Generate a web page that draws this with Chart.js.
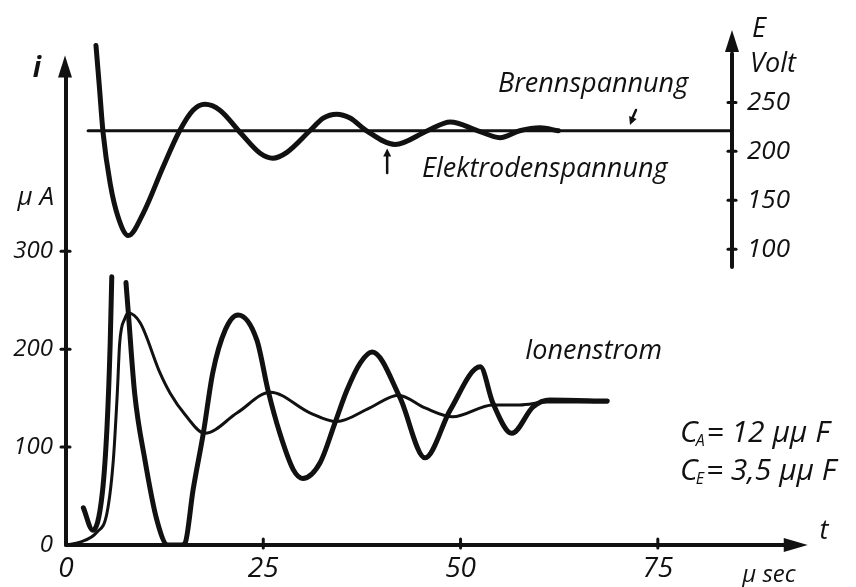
<!DOCTYPE html>
<html>
<head>
<meta charset="utf-8">
<script src="https://cdn.jsdelivr.net/npm/chart.js@4/dist/chart.umd.min.js"></script>
<style>
  html, body { margin: 0; padding: 0; background: #fff; }
  #wrap { width: 856px; height: 587px; position: relative; }
</style>
</head>
<body>
<div id="wrap"><canvas id="plot"></canvas></div>
<script>
// time axis in µs, current in µA (left), voltage in V (right)
const tTicks = [0, 25, 50, 75];
const iTicks = [0, 100, 200, 300];
const eTicks = [100, 150, 200, 250];

// Brennspannung (burning voltage), flat line
const brennT = [2.8, 84.4];
const brennE = [221, 221];

// Elektrodenspannung (electrode voltage)
const elekT = [3.8, 4.2, 4.7, 5.6, 6.6, 7.9, 9.8, 12.3, 14.4, 16.1, 17.6, 19.5, 22.1, 24.6, 26.2, 28.0,
  30.9, 32.6, 34.3, 36.0, 38.1, 41.7, 45.8, 48.7, 52.2, 55.0, 57.5, 60.1, 62.4];
const elekE = [308, 269, 219, 167, 133, 114, 137, 184, 221, 242, 248, 242, 219, 198, 193, 199,
  221, 234, 238, 234, 221, 207, 221, 230, 221, 214, 221, 224, 221];

// thin current trace
const thinT = [0, 1.8, 3.9, 5.2, 6.0, 6.5, 6.8, 7.5, 7.9, 9.4, 11.9, 13.2, 15.1, 17.6, 21.7, 25.9,
  30.9, 34.3, 38.5, 42.1, 45.5, 49.0, 54.1, 57.5, 61.0, 68.6];
const thinI = [0, 3, 13, 33, 87, 155, 206, 232, 237, 227, 176, 155, 133, 114, 135, 156,
  135, 126, 140, 153, 140, 131, 143, 143, 146, 146];

// thick current trace (Ionenstrom), broken after the first spike (null = gap)
const ionT = [2.2, 3.4, 4.6, 5.2, 5.6, 5.8, 6.7, 7.6, 7.9, 8.7, 10.0, 11.5, 12.9, 14.7, 15.1, 16.1,
  17.4, 18.6, 20.2, 21.8, 24.2, 25.6, 27.1, 28.8, 30.0, 32.2, 34.1, 35.6, 37.3, 38.8, 42.3, 45.5,
  48.7, 52.5, 54.1, 56.5, 59.2, 61.3, 68.6];
const ionI = [38, 15, 53, 121, 206, 274, null, 268, 237, 155, 87, 26, 0, 0, 2, 56,
  114, 176, 220, 235, 209, 158, 114, 77, 68, 84, 125, 158, 186, 197, 151, 89,
  138, 182, 145, 114, 141, 148, 147];

const ink = '#111';
const face = '"Open Sans"';
const pts = (xs, ys) => xs.map((t, k) => ({ x: t, y: ys[k] }));

function arrowHead(ctx, tipX, tipY, ang, len, half) {
  ctx.beginPath();
  ctx.moveTo(tipX, tipY);
  ctx.lineTo(tipX - len * Math.cos(ang) + half * Math.sin(ang), tipY - len * Math.sin(ang) - half * Math.cos(ang));
  ctx.lineTo(tipX - len * Math.cos(ang) - half * Math.sin(ang), tipY - len * Math.sin(ang) + half * Math.cos(ang));
  ctx.closePath();
  ctx.fill();
}

function seg(ctx, x1, y1, x2, y2) {
  ctx.beginPath();
  ctx.moveTo(x1, y1);
  ctx.lineTo(x2, y2);
  ctx.stroke();
}

// axes with arrows, annotations and captions
const decor = {
  id: 'decor',
  afterDraw(chart) {
    const { ctx, chartArea: a, scales: { x, y, yE } } = chart;
    ctx.save();
    ctx.strokeStyle = ink;
    ctx.fillStyle = ink;
    ctx.lineCap = 'round';

    // left i axis
    ctx.lineWidth = 4;
    seg(ctx, a.left, y.getPixelForValue(0), a.left, y.getPixelForValue(480));
    arrowHead(ctx, a.left - 1, y.getPixelForValue(500), -Math.PI / 2, 22, 7);

    // right E axis, only the upper part
    seg(ctx, a.right, yE.getPixelForValue(82), a.right, yE.getPixelForValue(300));
    arrowHead(ctx, a.right, yE.getPixelForValue(324), -Math.PI / 2, 22, 7);
    ctx.lineWidth = 3;
    eTicks.forEach(v => {
      const py = yE.getPixelForValue(v);
      seg(ctx, a.right - 4, py, a.right + 4, py);
    });
    iTicks.slice(1).forEach(v => {
      const py = y.getPixelForValue(v);
      seg(ctx, a.left - 5, py, a.left + 4, py);
    });

    // t axis
    ctx.lineWidth = 4;
    const tEnd = x.getPixelForValue(94);
    seg(ctx, a.left, y.getPixelForValue(0), tEnd - 16, y.getPixelForValue(0));
    arrowHead(ctx, tEnd, y.getPixelForValue(0), 0, 24, 7);
    ctx.lineWidth = 3;
    tTicks.slice(1).forEach(v => {
      const px = x.getPixelForValue(v);
      seg(ctx, px, a.bottom - 6, px, a.bottom + 3);
    });

    // small arrows pointing at the two voltage curves
    ctx.lineWidth = 2.5;
    const bx = x.getPixelForValue(71.6), by = yE.getPixelForValue(229);
    seg(ctx, bx + 5, by - 13, bx + 1, by - 4);
    arrowHead(ctx, bx - 1, by + 2, Math.atan2(13, -5), 8, 4);
    const ex = x.getPixelForValue(40.7);
    seg(ctx, ex, yE.getPixelForValue(178), ex, yE.getPixelForValue(198));
    arrowHead(ctx, ex, yE.getPixelForValue(203), -Math.PI / 2, 8, 4);

    // captions
    ctx.textBaseline = 'middle';
    ctx.textAlign = 'center';
    ctx.font = 'italic bold 28px ' + face;
    ctx.fillText('i', 37, 69);
    ctx.font = 'italic 27px ' + face;
    ctx.fillText('E', 759, 29);
    ctx.fillText('Volt', 773, 64);
    ctx.fillText('t', 824, 531);
    ctx.font = 'italic 24px ' + face;
    ctx.fillText('\u03bc sec', 769, 575);
    ctx.textAlign = 'right';
    ctx.font = 'italic 26px ' + face;
    ctx.fillText('\u03bc A', 54, 198);

    ctx.textAlign = 'left';
    ctx.font = 'italic 27px ' + face;
    ctx.fillText('Brennspannung', 498, 84);
    ctx.fillText('Elektrodenspannung', 422, 169);
    ctx.fillText('Ionenstrom', 525, 351);

    // capacitances with subscripts
    const capLine = (sub, rest, yy) => {
      let cx = 680;
      ctx.font = 'italic 30px ' + face;
      ctx.fillText('C', cx, yy);
      cx += ctx.measureText('C').width - 2;
      ctx.font = 'italic 16px ' + face;
      ctx.fillText(sub, cx, yy + 8);
      cx += ctx.measureText(sub).width + 2;
      ctx.font = 'italic 30px ' + face;
      ctx.fillText(rest, cx, yy);
    };
    capLine('A', '= 12 \u03bc\u03bc F', 433);
    capLine('E', '= 3,5 \u03bc\u03bc F', 471);
    ctx.restore();
  }
};

// tick offsets go through tickLength (hidden grid) so label padding
// does not push the chart area down
new Chart(document.getElementById('plot'), {
  type: 'line',
  data: {
    datasets: [
      { label: 'Brennspannung', data: pts(brennT, brennE), yAxisID: 'yE', borderWidth: 3 },
      { label: 'Elektrodenspannung', data: pts(elekT, elekE), yAxisID: 'yE', borderWidth: 5 },
      { label: 'Strom', data: pts(thinT, thinI), yAxisID: 'y', borderWidth: 3 },
      { label: 'Ionenstrom', data: pts(ionT, ionI), yAxisID: 'y', borderWidth: 5, spanGaps: false }
    ]
  },
  options: {
    responsive: true,
    maintainAspectRatio: false,
    animation: false,
    layout: { padding: { top: 26, right: 0, bottom: 0, left: 0 } },
    elements: {
      point: { radius: 0 },
      line: { borderColor: ink, cubicInterpolationMode: 'monotone', borderCapStyle: 'round', borderJoinStyle: 'round' }
    },
    plugins: { legend: { display: false }, tooltip: { enabled: false } },
    scales: {
      x: {
        type: 'linear',
        min: 0,
        max: 84.4,
        afterFit: s => { s.height = 42; },
        afterBuildTicks: s => { s.ticks = tTicks.map(v => ({ value: v })); },
        grid: { display: false, drawTicks: true, tickLength: 7 },
        border: { display: false },
        ticks: { color: ink, font: { family: face, style: 'italic', size: 28 }, padding: 0, autoSkip: false, maxRotation: 0 }
      },
      y: {
        position: 'left',
        min: 0,
        max: 530,
        afterFit: s => { s.width = 66; },
        afterBuildTicks: s => { s.ticks = iTicks.map(v => ({ value: v })); },
        grid: { display: false, drawTicks: true, tickLength: 13 },
        border: { display: false },
        ticks: { color: ink, font: { family: face, style: 'italic', size: 24 }, padding: 0 }
      },
      yE: {
        position: 'right',
        min: -202,
        max: 328,
        afterFit: s => { s.width = 124; },
        afterBuildTicks: s => { s.ticks = eTicks.map(v => ({ value: v })); },
        grid: { display: false, drawTicks: true, tickLength: 15 },
        border: { display: false },
        ticks: { color: ink, font: { family: face, style: 'italic', size: 26 }, padding: 0 }
      }
    }
  },
  plugins: [decor]
});
</script>
</body>
</html>
